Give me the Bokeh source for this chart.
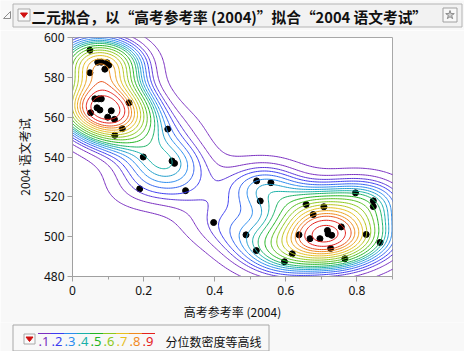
import numpy as np
from bokeh.plotting import figure
from bokeh.layouts import column
from bokeh.models import Range1d, FixedTicker
from bokeh.core.properties import value
from bokeh.embed import file_html
from bokeh.resources import INLINE

# ---------------- data ----------------
rate_2004 = [0.049, 0.071, 0.081, 0.097, 0.102, 0.091, 0.049,
             0.063, 0.074, 0.081, 0.069, 0.077, 0.109, 0.051, 0.099, 0.118,
             0.159, 0.140, 0.119, 0.268, 0.199, 0.280, 0.287, 0.189, 0.318,
             0.397, 0.518, 0.558, 0.528, 0.488, 0.517, 0.657, 0.707, 0.677,
             0.637, 0.668, 0.696, 0.717, 0.729, 0.719, 0.756, 0.726, 0.618,
             0.596, 0.766, 0.796, 0.846, 0.846, 0.826, 0.865]
chinese_2004 = [593.6, 587.6, 587.6, 587.3, 586.1, 584.1, 582.3,
                569.2, 569.2, 569.2, 564.7, 563.6, 563.2, 562.2, 560.0, 558.9,
                567.2, 554.2, 550.9, 554.0, 540.0, 538.0, 536.8, 524.0, 523.1,
                507.1, 528.0, 527.1, 517.9, 500.9, 493.0, 516.2, 515.0, 511.1,
                500.9, 499.0, 499.0, 503.1, 500.7, 501.4, 504.9, 494.1, 491.4,
                487.4, 488.9, 522.0, 518.0, 515.1, 501.1, 497.1]
quantiles = [0.05, 0.10, 0.15, 0.20, 0.25, 0.30, 0.35, 0.40, 0.45, 0.50,
             0.55, 0.60, 0.65, 0.70, 0.75, 0.80, 0.85, 0.90, 0.95]
legend_labels = [".1", ".2", ".3", ".4", ".5", ".6", ".7", ".8", ".9"]
legend_colors = ["#7A2FC0", "#3C3CF0", "#2A8CEE", "#18B0A8", "#22B422",
                 "#8CC81E", "#E6C01E", "#F08A1E", "#E4201C"]
x_ticks = [0, 0.2, 0.4, 0.6, 0.8]
x_minor = [0.1, 0.3, 0.5, 0.7, 0.9]
y_ticks = [480, 500, 520, 540, 560, 580, 600]
title_text = "二元拟合，以“高考参考率 (2004)”拟合“2004 语文考试”"
x_label = "高考参考率 (2004)"
y_label = "2004 语文考试"
legend_title = "分位数密度等高线"

# ---------------- density estimate (quantile density contours) ----------------
px = np.array(rate_2004)
py = np.array(chinese_2004)
hx, hy = 0.08, 8.8
gx = np.linspace(-0.4, 1.3, 341)
gy = np.linspace(430, 650, 341)
GX, GY = np.meshgrid(gx, gy)
Z = np.zeros_like(GX)
for a, b in zip(px, py):
    Z += np.exp(-0.5 * ((GX - a) / hx) ** 2 - 0.5 * ((GY - b) / hy) ** 2)
zs = np.sort(Z.ravel())
cum = np.cumsum(zs) / zs.sum()
levels = [float(zs[np.searchsorted(cum, q)]) for q in quantiles]


def hex2rgb(h):
    return np.array([int(h[i:i + 2], 16) for i in (1, 3, 5)], dtype=float)


anchor_q = [0.1 * (i + 1) for i in range(9)]
anchor_rgb = np.array([hex2rgb(c) for c in legend_colors])
line_colors = []
for q in quantiles:
    rgb = [np.interp(q, anchor_q, anchor_rgb[:, k]) for k in range(3)]
    line_colors.append("#%02x%02x%02x" % tuple(int(round(v)) for v in rgb))

BG = "#F8F8F8"
FONT = "Noto Sans CJK SC"
W = 464


def bare(height):
    f = figure(width=W, height=height, x_range=Range1d(0, W), y_range=Range1d(height, 0),
               output_backend="svg", toolbar_location=None, frame_align=False,
               x_axis_location=None, y_axis_location=None, min_border=0)
    f.outline_line_color = None
    f.background_fill_color = BG
    f.border_fill_color = BG
    f.xgrid.visible = False
    f.ygrid.visible = False
    return f


# ---------------- title bar (picture rows 0..30) ----------------
top = bare(30)
top.patch([3, 10, 10], [18, 18, 11], fill_color=None, line_color="#8C8C8C", line_width=1)
top.quad(left=[12.5], right=[461.5], top=[3.5], bottom=[26.5], fill_color="#F2F2F2",
         line_color="#B4B4B4", line_width=1)
top.quad(left=[17.5], right=[29.5], top=[8.5], bottom=[20.5], fill_color="#FAFAFA",
         line_color="#A8A8A8", line_width=1)
top.patch([20, 27, 23.5], [12.5, 12.5, 17], fill_color="#D01010", line_color="#D01010")
top.text([31], [15.5], text=[title_text], text_font=value(FONT), text_font_style="bold",
         text_font_size="14.7px", text_baseline="middle", text_color="#111111")
top.quad(left=[442.5], right=[456.5], top=[7.5], bottom=[21.5], fill_color="#F8F8F8",
         line_color="#A0A0A0", line_width=1)
top.scatter([449.5], [14.5], marker="star", size=9, fill_color="#D0D0D0",
            line_color="#8A8A8A")

# ---------------- main plot (picture rows 30..322) ----------------
p = figure(width=W, height=292, x_range=Range1d(0, 0.9), y_range=Range1d(480, 600),
           output_backend="svg", toolbar_location=None, frame_align=False,
           min_border_left=72, min_border_right=72, min_border_top=7, min_border_bottom=45)
p.background_fill_color = "white"
p.border_fill_color = BG
p.outline_line_color = "#A8A8A8"
p.xgrid.visible = False
p.ygrid.visible = False

p.scatter(rate_2004, chinese_2004, size=6, fill_color="black", line_color="black")
p.contour(gx, gy, Z, levels=levels, line_color=line_colors, line_width=1)

for ax in (p.xaxis[0], p.yaxis[0]):
    ax.axis_line_color = "#A0A0A0"
    ax.major_tick_line_color = "#A0A0A0"
    ax.minor_tick_line_color = "#A0A0A0"
    ax.major_tick_out = 5
    ax.major_tick_in = 0
    ax.minor_tick_out = 3
    ax.minor_tick_in = 0
    ax.major_label_text_font = "Noto Sans"
    ax.major_label_text_font_size = "12px"
    ax.major_label_text_color = "#111111"
    ax.axis_label_text_font = FONT
    ax.axis_label_text_font_size = "12px"
    ax.axis_label_text_font_style = "normal"
    ax.axis_label_text_color = "#111111"

p.xaxis[0].ticker = FixedTicker(ticks=x_ticks, minor_ticks=x_minor)
p.xaxis[0].major_label_overrides = {0: "0"}
p.yaxis[0].ticker = FixedTicker(ticks=y_ticks, minor_ticks=[])
p.xaxis[0].axis_label = x_label
p.yaxis[0].axis_label = y_label
p.xaxis[0].major_label_standoff = 4
p.xaxis[0].axis_label_standoff = 5
p.yaxis[0].major_label_standoff = 3
p.yaxis[0].axis_label_standoff = 8

# ---------------- legend bar (picture rows 322..351) ----------------
bot = bare(29)
bot.quad(left=[12.5], right=[268.5], top=[2.5], bottom=[28.5], fill_color=BG,
         line_color="#A8A8A8", line_width=1)
bot.quad(left=[23.5], right=[34.5], top=[11.5], bottom=[21.5], fill_color="#FAFAFA",
         line_color="#A8A8A8", line_width=1)
bot.patch([25.5, 32.5, 29], [14.5, 14.5, 19], fill_color="#D01010", line_color="#D01010")
n = len(legend_labels)
lx = [37.5 + 13.0 * i for i in range(n)]
bot.segment(x0=lx, y0=[11] * n, x1=[v + 13.0 for v in lx], y1=[11] * n,
            line_color=legend_colors, line_width=1)
bot.text([v + 0.5 for v in lx], [19] * n, text=legend_labels, text_color=legend_colors,
         text_font=value("Noto Sans"), text_font_size="13px", text_baseline="middle")
bot.text([165], [18.5], text=[legend_title], text_font=value(FONT),
         text_font_size="12px", text_baseline="middle", text_color="#111111")

layout = column(top, p, bot, spacing=0)
open("out.html", "w").write(file_html(layout, INLINE))
